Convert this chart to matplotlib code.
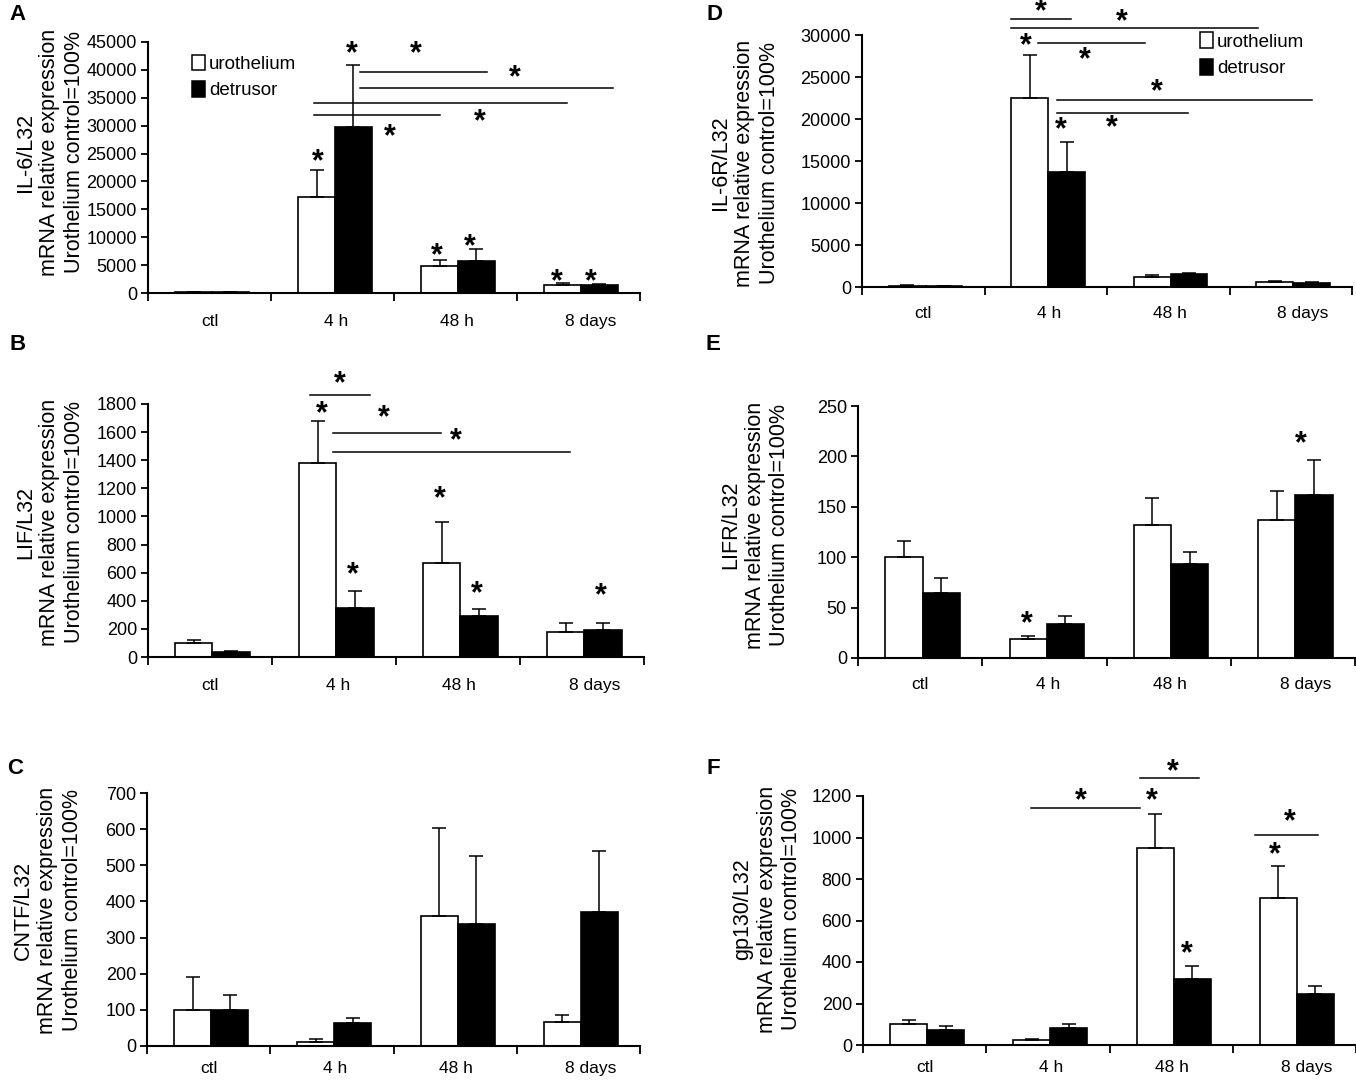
import matplotlib
matplotlib.use('Agg')
import matplotlib.pyplot as plt
from matplotlib.patches import Patch
from matplotlib.transforms import offset_copy

plt.rcParams['font.family'] = ['Liberation Sans', 'DejaVu Sans']

groups = ['ctl', '4 h', '48 h', '8 days']

# IL-6
il6_uro = [150, 17200, 4800, 1500]
il6_uro_err = [100, 4800, 1100, 300]
il6_det = [100, 29800, 5800, 1400]
il6_det_err = [80, 11100, 2100, 250]
il6_stars = [(0.88, 24200), (1.16, 43600), (1.68, 43600), (2.48, 39300), (2.2, 31400),
             (1.47, 28700), (1.85, 7300), (2.12, 8900), (2.82, 2700), (3.1, 2700)]
il6_lines = [(1.22, 2.26, 39600), (1.22, 3.28, 36800), (0.85, 2.91, 34100), (0.85, 1.87, 31900)]

# LIF
lif_uro = [100, 1380, 670, 180]
lif_uro_err = [20, 300, 290, 65]
lif_det = [35, 350, 295, 190]
lif_det_err = [5, 120, 45, 55]
lif_stars = [(1.05, 1970), (0.9, 1756), (1.4, 1728), (1.98, 1564), (1.15, 611),
             (1.85, 1152), (2.15, 476), (3.15, 462)]
lif_lines = [(0.81, 1.29, 1863), (0.99, 1.86, 1593), (0.99, 2.9, 1458)]

# CNTF
cntf_uro = [100, 12, 360, 67]
cntf_uro_err = [92, 8, 243, 20]
cntf_det = [100, 65, 337, 370]
cntf_det_err = [40, 13, 188, 170]

# IL-6R
il6r_uro = [150, 22500, 1200, 600]
il6r_uro_err = [50, 5100, 200, 100]
il6r_det = [120, 13700, 1500, 500]
il6r_det_err = [40, 3600, 150, 60]
il6r_stars = [(0.96, 33200), (1.62, 32000), (0.84, 29150), (1.32, 27500), (1.91, 23700),
              (1.12, 19150), (1.54, 19400)]
il6r_lines = [(0.72, 1.21, 31900), (0.72, 2.73, 30800), (0.94, 1.81, 29000),
              (1.09, 3.17, 22250), (1.09, 2.16, 20700)]

# LIFR
lifr_uro = [100, 19, 132, 137]
lifr_uro_err = [16, 3, 27, 29]
lifr_det = [64, 34, 93, 162]
lifr_det_err = [15, 8, 12, 34]
lifr_stars = [(0.86, 37.7), (3.06, 216)]
lifr_lines = []

# gp130
gp_uro = [100, 25, 950, 710]
gp_uro_err = [20, 6, 165, 155]
gp_det = [70, 80, 320, 245]
gp_det_err = [20, 20, 60, 40]
gp_stars = [(1.27, 1195), (2.01, 1335), (1.84, 1195), (2.96, 1094), (2.84, 935), (2.13, 458)]
gp_lines = [(0.86, 1.75, 1142), (1.75, 2.23, 1287), (2.68, 3.19, 1012)]

W, H = 1356, 1080
fig = plt.figure(figsize=(W / 100, H / 100), dpi=100)

# letter, label, data..., ymax, ystep, axes box px (left, top, right, bottom),
# ylabel centre px, letter px, legend anchor, category label pad
panels = [
    ('A', 'IL-6/L32', il6_uro, il6_uro_err, il6_det, il6_det_err, il6_stars, il6_lines,
     45000, 5000, (148, 42, 640, 293), (50, 152), (18, 15), (0.09, 0.95), 15),
    ('B', 'LIF/L32', lif_uro, lif_uro_err, lif_det, lif_det_err, lif_stars, lif_lines,
     1800, 200, (148, 404, 644, 657), (50, 522), (18, 345), None, 15),
    ('C', 'CNTF/L32', cntf_uro, cntf_uro_err, cntf_det, cntf_det_err, [], [],
     700, 100, (147, 793, 640, 1046), (48, 910), (15, 769), None, 11),
    ('D', 'IL-6R/L32', il6r_uro, il6r_uro_err, il6r_det, il6r_det_err, il6r_stars, il6r_lines,
     30000, 5000, (862, 35, 1352, 287), (745, 163), (715, 15), (0.69, 1.01), 14),
    ('E', 'LIFR/L32', lifr_uro, lifr_uro_err, lifr_det, lifr_det_err, lifr_stars, lifr_lines,
     250, 50, (858, 406, 1355, 658), (755, 525), (713, 345), None, 14),
    ('F', 'gp130/L32', gp_uro, gp_uro_err, gp_det, gp_det_err, gp_stars, gp_lines,
     1200, 200, (863, 796, 1356, 1045), (767, 909), (713, 769), None, 11),
]

bw = 0.3
label_shift = [0, 0.03, 0.01, 0.1]
for (letter, lab, uro, uro_err, det, det_err, stars, lines,
     ymax, ystep, box, labpos, letpos, legpos, catpad) in panels:
    l, t, r, b = box
    ax = fig.add_axes([l / W, 1 - b / H, (r - l) / W, (b - t) / H])
    x = list(range(len(groups)))
    xu = [i - bw / 2 + 0.02 for i in x]
    xd = [i + bw / 2 + 0.02 for i in x]
    ax.bar(xu, uro, bw, color='white', edgecolor='black', linewidth=1.2, zorder=2)
    ax.bar(xd, det, bw, color='black', edgecolor='black', linewidth=1.2, zorder=2)
    ax.errorbar(xu, uro, yerr=[[0] * 4, uro_err], fmt='none', ecolor='black',
                elinewidth=1.1, capsize=5, capthick=1.1, zorder=3)
    ax.errorbar(xd, det, yerr=[[0] * 4, det_err], fmt='none', ecolor='black',
                elinewidth=1.1, capsize=5, capthick=1.1, zorder=1)
    for x0, x1, y in lines:
        ax.plot([x0, x1], [y, y], color='black', lw=1.1, clip_on=False)
    star_tr = offset_copy(ax.transData, fig=fig, y=-3, units='points')
    for sx, sy in stars:
        ax.text(sx, sy, '*', ha='center', va='center', fontsize=22, fontweight='bold',
                clip_on=False, transform=star_tr)

    ax.set_xlim(-0.5, 3.5)
    ax.set_ylim(0, ymax)
    ax.set_yticks(range(0, ymax + 1, ystep))
    ax.set_xticks([-0.5, 0.5, 1.5, 2.5, 3.5])
    ax.set_xticklabels([])
    ax.set_xticks([i + s for i, s in zip(x, label_shift)], minor=True)
    ax.set_xticklabels(groups, minor=True, fontsize=12.5)
    ax.tick_params(axis='x', which='major', direction='out', length=6, width=1.3)
    ax.tick_params(axis='x', which='minor', length=0, pad=catpad)
    ax.tick_params(axis='y', direction='out', length=5, width=1.3, labelsize=13, pad=3)
    for s in ['top', 'right']:
        ax.spines[s].set_visible(False)
    for s in ['left', 'bottom']:
        ax.spines[s].set_linewidth(1.5)

    fig.text(labpos[0] / W, 1 - labpos[1] / H,
             lab + '\nmRNA relative expression\nUrothelium control=100%',
             rotation=90, ha='center', va='center', fontsize=15.5, linespacing=1.22)
    fig.text(letpos[0] / W, 1 - letpos[1] / H, letter, ha='center', va='center',
             fontsize=16, fontweight='bold')

    if legpos is not None:
        handles = [Patch(facecolor='white', edgecolor='black', linewidth=1.1),
                   Patch(facecolor='black', edgecolor='black', linewidth=1.1)]
        ax.legend(handles, ['urothelium', 'detrusor'], loc='upper left',
                  bbox_to_anchor=legpos, frameon=False, fontsize=13.5,
                  handlelength=0.7, handleheight=0.9, handletextpad=0.2,
                  labelspacing=0.45, borderpad=0, borderaxespad=0)

fig.savefig('out.png', dpi=100)
